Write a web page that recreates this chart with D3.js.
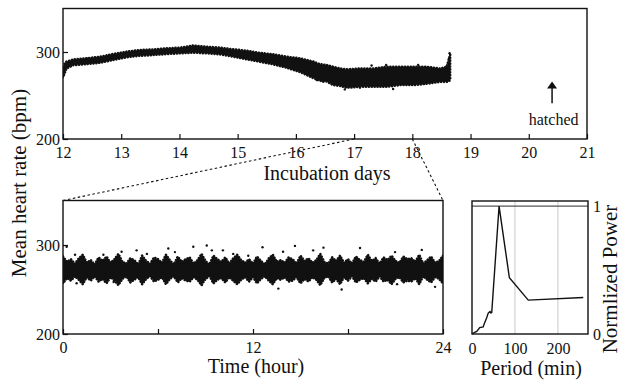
<!DOCTYPE html>
<html>
<head>
<meta charset="utf-8">
<script src="https://cdn.jsdelivr.net/npm/d3@7"></script>
<style>
  body { margin: 0; background: #fff; }
  text { font-family: "Liberation Serif", "Times New Roman", serif; fill: #111; }
</style>
</head>
<body>
<svg id="chart" width="624" height="380"></svg>
<script>
// incubation record, day 12 -> 18.65 : upper / lower edge of the dot cloud (bpm)
let topDays = [12.0, 12.03, 12.06, 12.18, 12.4, 12.64, 12.86, 13.09, 13.32, 13.55, 13.78, 14.01, 14.24,
  14.47, 14.7, 14.93, 15.16, 15.38, 15.61, 15.84, 16.07, 16.3, 16.41, 16.53, 16.64, 16.76, 16.87,
  17.1, 17.33, 17.56, 17.79, 18.02, 18.25, 18.48, 18.59, 18.62, 18.65]
let topHigh = [280, 287, 289, 291.5, 292.7, 294.6, 297.7, 300.4, 302.3, 303, 304.2, 305, 307.5,
  306, 305, 303, 301.5, 299, 297.3, 294.6, 292.7, 289, 286, 285, 283, 281, 280,
  281, 281, 283, 283, 283, 283, 281, 283, 290, 297]
let topLow = [271, 276, 281, 285, 286, 287.7, 290.8, 293.9, 295.7, 296.5, 297.7, 298.5, 299.3,
  298.5, 297.3, 294.6, 291.5, 288.8, 285.8, 282, 277, 270, 267, 266, 262, 261, 259,
  260, 260, 260, 262, 262, 263.5, 265.7, 265.7, 266, 268]
// stray dots [day, bpm]
let topDots = [[12.41, 292.7], [16.36, 267.7], [16.47, 265.7], [16.84, 257], [17.1, 259], [17.67, 257.5],
  [17.3, 284.5], [17.55, 285], [18.1, 285], [18.64, 298.5], [18.63, 292.5], [16.2, 288], [16.0, 291]]

// 24 h record (day 17 -> 18), sampled every 15 min: upper / lower edge (bpm)
let hourHigh = [
  287, 281, 284, 279,  285, 289, 280, 283,  278, 286, 282, 287,  280, 284, 290, 281,
  279, 285, 283, 278,  288, 282, 279, 286,  284, 280, 289, 283,  278, 287, 281, 284,
  286, 279, 283, 290,  282, 278, 288, 284,  281, 286, 279, 285,  289, 283, 280, 284,
  279, 287, 282, 278,  285, 289, 281, 283,  280, 286, 284, 279,  288, 282, 285, 280,
  283, 290, 281, 279,  286, 282, 288, 280,  284, 279, 287, 283,  281, 289, 282, 285,
  279, 286, 283, 288,  282, 280, 287, 284,  285, 281, 289, 279,  283, 287, 280, 282,
  288]
let hourLow = [
  257, 263, 260, 265,  261, 256, 264, 260,  265, 259, 262, 257,  264, 260, 255, 262,
  265, 258, 261, 264,  256, 262, 265, 259,  261, 264, 256, 262,  265, 258, 263, 260,
  259, 264, 261, 255,  262, 265, 257, 261,  263, 258, 264, 260,  256, 261, 264, 259,
  264, 257, 262, 265,  260, 256, 263, 261,  264, 259, 260, 264,  257, 262, 259, 264,
  261, 255, 263, 265,  258, 262, 256, 264,  260, 265, 258, 261,  263, 257, 262, 259,
  265, 259, 261, 256,  262, 264, 258, 260,  259, 263, 256, 265,  261, 258, 264, 262,
  257]
let hourDots = [[0.23, 298], [0.76, 289], [2.55, 289], [3.7, 292.5], [4.65, 294], [5.3, 290], [6.65, 296],
  [7.07, 292], [8.23, 298], [9.08, 299.5], [9.4, 294], [10.1, 294], [10.75, 290], [11.7, 288],
  [12.6, 297.4], [13.9, 292.5], [14.65, 299], [15.8, 294], [16.45, 297], [18.76, 296.6],
  [20.97, 292], [22.66, 294.5], [0.86, 257], [3.2, 258.4], [8.76, 255], [13.6, 251],
  [17.6, 250], [21.1, 256], [23.5, 253]]

// power spectrum
let periodMin = [0, 5, 11, 18, 26, 29, 34, 38, 42, 44, 46, 63, 87, 131, 259]
let powerNorm = [0, 0.01, 0.02, 0.05, 0.055, 0.085, 0.125, 0.165, 0.175, 0.165, 0.17, 1.0, 0.44, 0.265, 0.285]

let dayTicks = [12, 13, 14, 15, 16, 17, 18, 19, 20, 21]
let bpmTicks = [200, 300]
let hourTicks = [0, 6, 12, 18, 24]
let hourLabels = [0, 12, 24]
let periodTicks = [0, 100, 200]
let powerTicks = [0, 1]

let svg = d3.select("#chart")
let ink = "#111"

let scales = {
  day: d3.scaleLinear().domain([12, 21]).range([63, 587]),
  bpmTop: d3.scaleLinear().domain([200, 350]).range([139, 8.5]),
  hour: d3.scaleLinear().domain([0, 24]).range([63, 443]),
  bpmBot: d3.scaleLinear().domain([200, 350]).range([334, 200.5]),
  period: d3.scaleLinear().domain([0, 270]).range([472, 588]),
  power: d3.scaleLinear().domain([0, 1.04]).range([334, 201])
}

function frame(x, y) {
  let [x0, x1] = x.range(), [y0, y1] = y.range()
  svg.append("rect")
    .attr("x", x0).attr("y", y1).attr("width", x1 - x0).attr("height", y0 - y1)
    .attr("fill", "none").attr("stroke", ink).attr("stroke-width", 1.4)
}

function styleAxis(g, size) {
  g.select(".domain").remove()
  g.selectAll("line").attr("stroke", ink).attr("stroke-width", 1.2)
  g.selectAll("text").attr("font-size", size).attr("fill", ink)
}

function cloud(data, x, y, clip) {
  let area = d3.area()
    .x(d => x(d[0])).y0(d => y(d[2])).y1(d => y(d[1]))
  svg.append("path")
    .datum(data)
    .attr("d", area)
    .attr("fill", ink)
    .attr("stroke", ink)
    .attr("stroke-width", 2.6)
    .attr("stroke-linecap", "round")
    .attr("stroke-dasharray", "0.1,2.8")
    .attr("clip-path", clip)
}

function dots(data, x, y) {
  svg.append("g").selectAll("circle")
    .data(data).enter()
    .append("circle")
    .attr("cx", d => x(d[0])).attr("cy", d => y(d[1]))
    .attr("r", 1.2).attr("fill", ink)
}

// ---- top panel
svg.append("defs").append("clipPath").attr("id", "clipTop")
  .append("rect").attr("x", 63).attr("y", 8.5).attr("width", 524).attr("height", 130.5)
svg.select("defs").append("clipPath").attr("id", "clipBot")
  .append("rect").attr("x", 63).attr("y", 200.5).attr("width", 380).attr("height", 133.5)

cloud(topDays.map((d, i) => [d, topHigh[i], topLow[i]]), scales.day, scales.bpmTop, "url(#clipTop)")
dots(topDots, scales.day, scales.bpmTop)
frame(scales.day, scales.bpmTop)

svg.append("g").attr("transform", "translate(0,139)")
  .call(d3.axisBottom(scales.day).tickValues(dayTicks).tickSizeInner(-5).tickSizeOuter(0).tickPadding(8))
  .call(g => styleAxis(g, 16))
svg.append("g").attr("transform", "translate(63,0)")
  .call(d3.axisLeft(scales.bpmTop).tickValues(bpmTicks).tickSizeInner(-5).tickSizeOuter(0).tickPadding(3))
  .call(g => styleAxis(g, 16))

svg.append("text").attr("x", 327).attr("y", 180).attr("text-anchor", "middle")
  .attr("font-size", 20).text("Incubation days")

// hatched marker
let hatchDay = 20.4
svg.append("line")
  .attr("x1", scales.day(hatchDay)).attr("x2", scales.day(hatchDay))
  .attr("y1", scales.bpmTop(241)).attr("y2", scales.bpmTop(260))
  .attr("stroke", ink).attr("stroke-width", 1.5)
svg.append("path")
  .attr("d", d3.line()([[scales.day(hatchDay) - 5, scales.bpmTop(258)], [scales.day(hatchDay), scales.bpmTop(266)],
    [scales.day(hatchDay) + 5, scales.bpmTop(258)]]) + "Z")
  .attr("fill", ink)
svg.append("text").attr("x", scales.day(20)).attr("y", scales.bpmTop(216))
  .attr("font-size", 16).text("hatched")

// zoom connectors
svg.append("g").selectAll("line")
  .data([[17, 0], [18, 24]]).enter()
  .append("line")
  .attr("x1", d => scales.day(d[0])).attr("y1", scales.bpmTop(200))
  .attr("x2", d => scales.hour(d[1])).attr("y2", scales.bpmBot(350))
  .attr("stroke", ink).attr("stroke-width", 1.1).attr("stroke-dasharray", "2.5,2.5")

// ---- bottom-left panel
let hours = hourHigh.map((_, i) => i * 0.25)
cloud(hours.map((h, i) => [h, hourHigh[i], hourLow[i]]), scales.hour, scales.bpmBot, "url(#clipBot)")
dots(hourDots, scales.hour, scales.bpmBot)
frame(scales.hour, scales.bpmBot)

svg.append("g").attr("transform", "translate(0,334)")
  .call(d3.axisBottom(scales.hour).tickValues(hourTicks).tickSizeInner(-5).tickSizeOuter(0).tickPadding(8)
    .tickFormat(d => hourLabels.includes(d) ? d : ""))
  .call(g => styleAxis(g, 16))
svg.append("g").attr("transform", "translate(63,0)")
  .call(d3.axisLeft(scales.bpmBot).tickValues(bpmTicks).tickSizeInner(-5).tickSizeOuter(0).tickPadding(3))
  .call(g => styleAxis(g, 16))

svg.append("text").attr("x", 256).attr("y", 373).attr("text-anchor", "middle")
  .attr("font-size", 20).text("Time (hour)")
svg.append("text").attr("transform", "translate(26,183) rotate(-90)").attr("text-anchor", "middle")
  .attr("font-size", 21).text("Mean heart rate (bpm)")

// ---- bottom-right panel (spectrum)
svg.append("g").selectAll("line")
  .data(periodTicks.slice(1)).enter()
  .append("line")
  .attr("x1", d => scales.period(d)).attr("x2", d => scales.period(d))
  .attr("y1", 201).attr("y2", 334)
  .attr("stroke", "#c8c8c8").attr("stroke-width", 1)
svg.append("line")
  .attr("x1", 472).attr("x2", 588)
  .attr("y1", scales.power(1)).attr("y2", scales.power(1))
  .attr("stroke", "#555").attr("stroke-width", 1.2)

svg.append("path")
  .datum(periodMin.map((p, i) => [p, powerNorm[i]]))
  .attr("d", d3.line().x(d => scales.period(d[0])).y(d => scales.power(d[1])))
  .attr("fill", "none").attr("stroke", ink).attr("stroke-width", 1.4)
frame(scales.period, scales.power)

svg.append("g").attr("transform", "translate(0,334)")
  .call(d3.axisBottom(scales.period).tickValues(periodTicks).tickSize(0).tickPadding(9))
  .call(g => styleAxis(g, 16))
svg.append("g").attr("transform", "translate(588,0)")
  .call(d3.axisRight(scales.power).tickValues(powerTicks).tickSize(0).tickPadding(5).tickFormat(d3.format("d")))
  .call(g => styleAxis(g, 16))

svg.append("text").attr("x", 531).attr("y", 375).attr("text-anchor", "middle")
  .attr("font-size", 20).text("Period (min)")
svg.append("text").attr("transform", "translate(617,279) rotate(-90)").attr("text-anchor", "middle")
  .attr("font-size", 21).text("Normlized Power")
</script>
</body>
</html>
